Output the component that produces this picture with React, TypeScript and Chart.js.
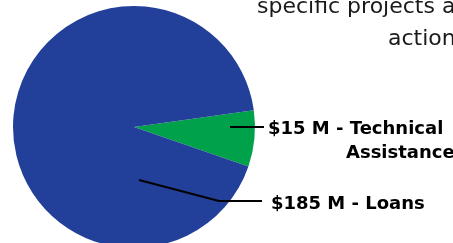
import React, { useEffect, useRef } from "react";
import { Chart, registerables } from "chart.js";

Chart.register(...registerables);

const categories = ["Technical Assistance", "Loans"];
const values = [15, 185];
const sliceColors = ["#00A14B", "#22409A"];
const labelTexts = [["$15 M - Technical", "Assistance"], ["$185 M - Loans"]];
const headerLines = ["specific projects and", "actions"];

const W = 453;
const H = 256;

const annotations = {
  id: "annotations",
  afterDraw(chart: any) {
    const ctx = chart.ctx as CanvasRenderingContext2D;
    const arc = chart.getDatasetMeta(0).data[0];
    const cx = arc.x;
    const cy = arc.y;
    ctx.save();
    // header text (cut off on the right)
    ctx.fillStyle = "#1a1a1a";
    ctx.font = "22px 'DejaVu Sans'";
    ctx.textBaseline = "alphabetic";
    ctx.textAlign = "left";
    ctx.fillText(headerLines[0], 257, 13);
    ctx.fillText(headerLines[1], 388, 44.5);

    // leader lines
    ctx.strokeStyle = "#000000";
    ctx.lineWidth = 2;
    ctx.beginPath();
    ctx.moveTo(cx + 96, cy);
    ctx.lineTo(cx + 130, cy);
    ctx.stroke();
    ctx.beginPath();
    ctx.moveTo(cx + 5, cy + 53);
    ctx.lineTo(cx + 85, cy + 74);
    ctx.lineTo(cx + 128, cy + 74);
    ctx.stroke();

    // labels
    ctx.fillStyle = "#000000";
    ctx.font = "bold 18px 'DejaVu Sans'";
    ctx.fillText(labelTexts[0][0], 268, 133.5);
    ctx.fillText(labelTexts[0][1], 346, 157.5);
    ctx.fillText(labelTexts[1][0], 271, 208.5);
    ctx.restore();
  },
};

export default function App() {
  const ref = useRef<HTMLCanvasElement | null>(null);
  useEffect(() => {
    if (!ref.current) return;
    const chart = new Chart(ref.current, {
      type: "pie",
      data: {
        labels: categories,
        datasets: [
          {
            data: values,
            backgroundColor: sliceColors,
            borderWidth: 0,
          },
        ],
      },
      options: {
        responsive: false,
        animation: false,
        rotation: 82,
        radius: 121,
        layout: { padding: { left: 13, right: 198, top: 6, bottom: 8 } },
        plugins: {
          legend: { display: false },
          tooltip: { enabled: false },
        },
      },
      plugins: [annotations],
    });
    return () => chart.destroy();
  }, []);
  return (
    <div
      style={{
        position: "fixed",
        left: 0,
        top: 0,
        width: 453,
        height: 243,
        overflow: "hidden",
        background: "#ffffff",
      }}
    >
      <canvas ref={ref} width={W} height={H} style={{ display: "block", width: W, height: H }} />
    </div>
  );
}
